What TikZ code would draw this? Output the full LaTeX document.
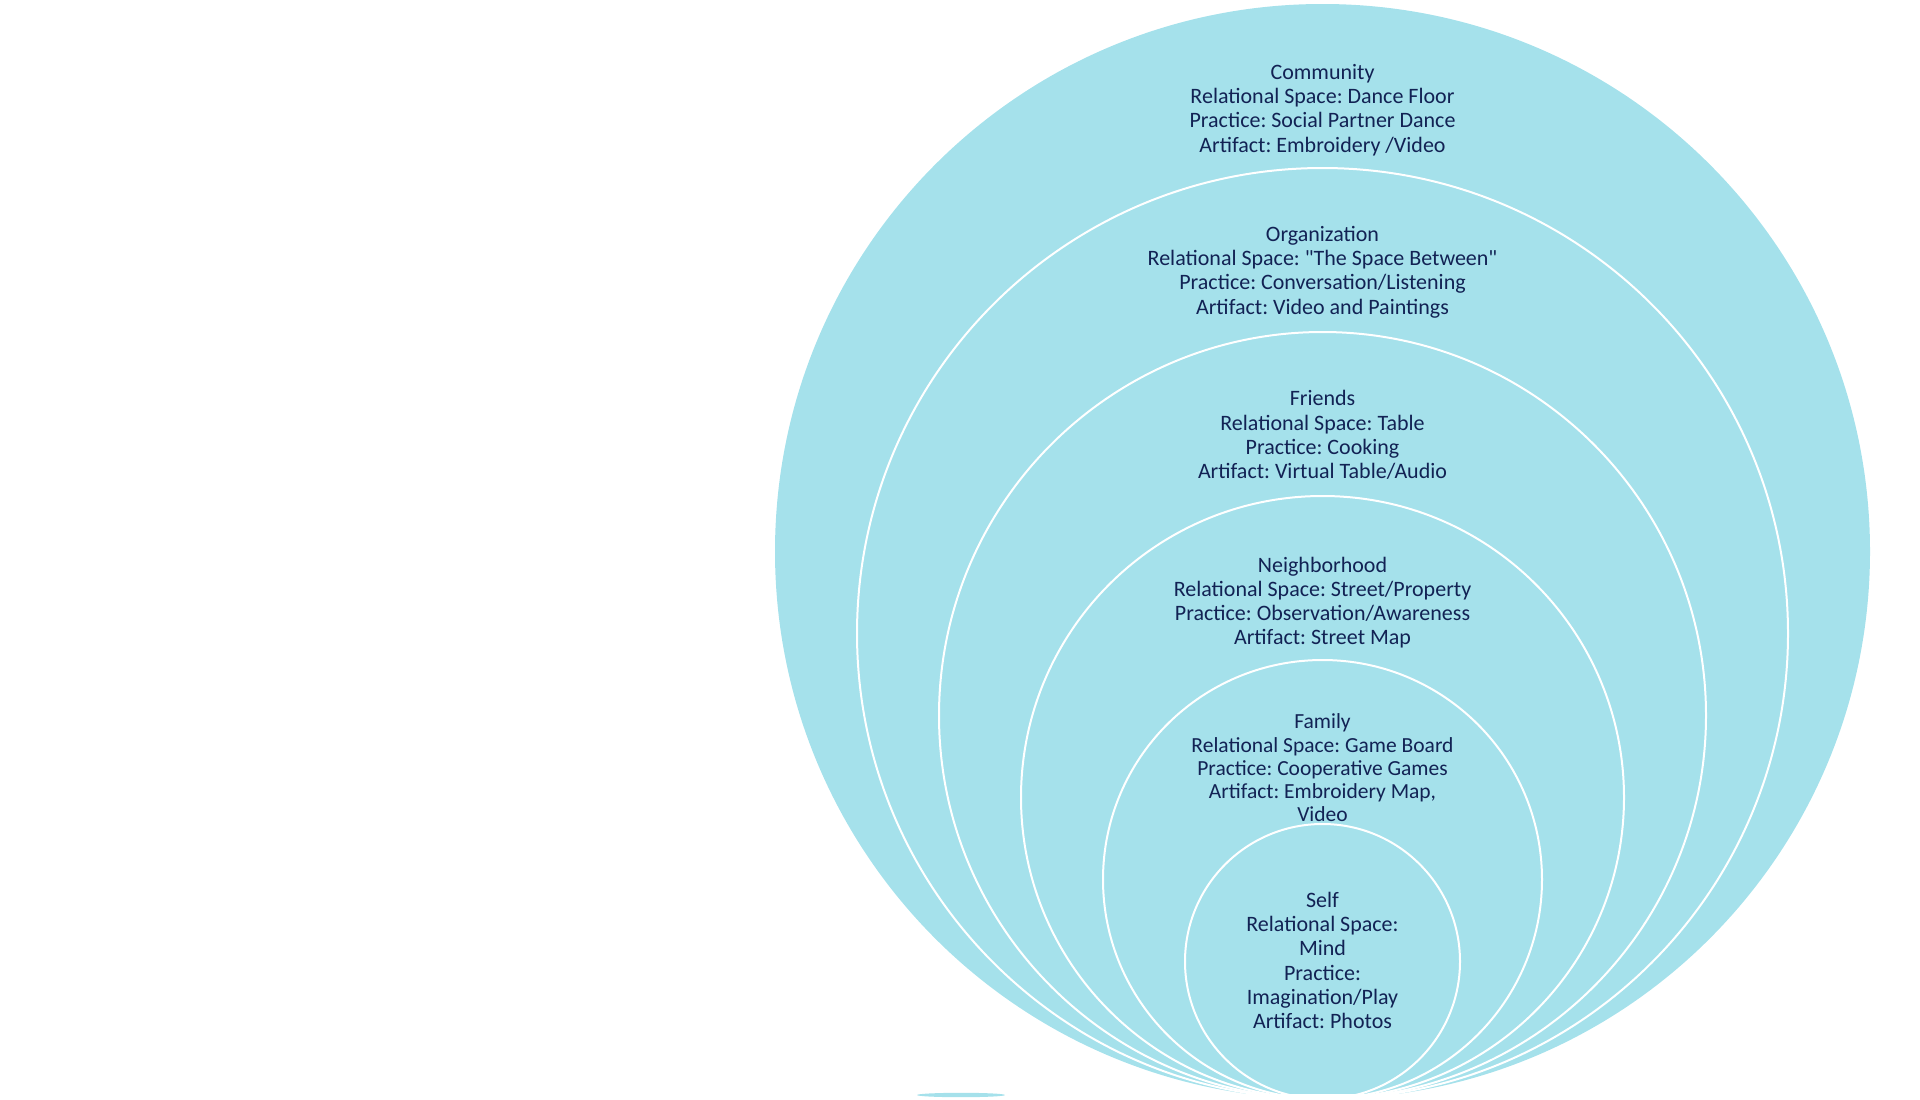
\documentclass[tikz,border=0pt]{standalone}
\usepackage{fontspec}
\setmainfont{Carlito}
\newfontfamily\carl{Carlito}
\frenchspacing
\definecolor{ringblue}{RGB}{165,225,235}
\definecolor{navy}{RGB}{18,34,84}
\tikzset{
  ring/.style={circle, draw=white, line width=2pt, fill=ringblue, inner sep=0pt, outer sep=0pt, minimum size=#1},
  label/.style={align=center, text=navy, font=\carl\fontsize{22}{24.2}\selectfont, inner sep=0pt}
}
\begin{document}
\begin{tikzpicture}[x=1pt,y=-1pt]
\useasboundingbox (0,0) rectangle (1920,1100);
\begin{scope}
\clip (0,0) rectangle (1920,1093);
\node[ring=1095pt, draw=none] (c1) at (1322.5,551.5) {};
\node[ring=931pt] (c2) at (1322.5,633.5) {};
\node[ring=767pt] (c3) at (1322.5,715.5) {};
\node[ring=603pt] (c4) at (1322.5,797.5) {};
\node[ring=439pt] (c5) at (1322.5,879.5) {};
\node[ring=275pt] (c6) at (1322.5,961.5) {};
\end{scope}
\fill[ringblue] (961,1095) ellipse [x radius=44, y radius=2.2];
\node[label] (t1) at (1322.5,110) {Community\\Relational Space: Dance Floor\\Practice: Social Partner Dance\\Artifact: Embroidery /Video};
\node[label] (t2) at (1322.5,272) {Organization\\Relational Space: "The Space Between"\\Practice: Conversation/Listening\\Artifact: Video and Paintings};
\node[label] (t3) at (1322.5,435) {Friends\\Relational Space: Table\\Practice: Cooking\\Artifact: Virtual Table/Audio};
\node[label] (t4) at (1322.5,602.5) {Neighborhood\\Relational Space: Street/Property\\Practice: Observation/Awareness\\Artifact: Street Map};
\node[label, font=\carl\fontsize{21.5}{23.3}\selectfont] (t5) at (1322.5,768) {Family\\Relational Space: Game Board\\Practice: Cooperative Games\\Artifact: Embroidery Map,\\Video};
\node[label] (t6) at (1322.5,960.5) {Self\\Relational Space:\\Mind\\Practice:\\Imagination/Play\\Artifact: Photos};
\end{tikzpicture}
\end{document}
